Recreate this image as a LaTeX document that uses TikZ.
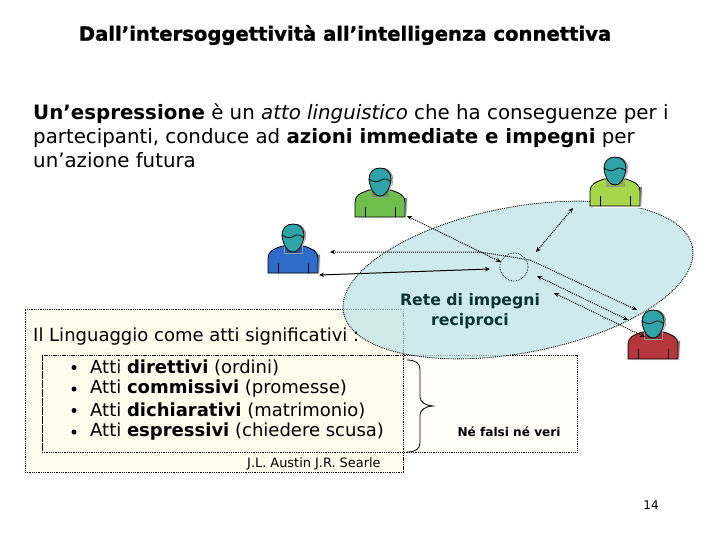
\documentclass[tikz,border=0pt]{standalone}
\usepackage{fontspec}
\setmainfont{DejaVu Sans}
\usetikzlibrary{shapes.geometric,arrows.meta}
\definecolor{cream}{HTML}{FFFCEE}
\definecolor{creamlt}{HTML}{FFFEF6}
\definecolor{pool}{HTML}{BFE3E6}
\definecolor{headc}{HTML}{2FA3A8}
\definecolor{shade}{HTML}{A9B9BC}
\definecolor{ink}{HTML}{0B3236}
\definecolor{pgreen}{HTML}{6DBE4B}
\definecolor{plime}{HTML}{A6D64A}
\definecolor{pblue}{HTML}{2F6BC9}
\definecolor{pred}{HTML}{B5363C}
\tikzset{
 x=1pt,y=-1pt,
 dotbox/.style={draw=black,densely dotted,line width=0.8pt},
 lnk/.style={densely dotted,line width=1pt,{Stealth[length=5pt,width=4.5pt]}-{Stealth[length=5pt,width=4.5pt]}},
 lnkopen/.style={densely dotted,line width=1pt,{Stealth[length=5pt,width=4.5pt,open]}-{Stealth[length=5pt,width=4.5pt,open]}},
 lbl/.style={inner sep=0pt,anchor=west,text=black},
 pics/person/.style={code={
   \fill[shade] (-22,2) -- (27,2) -- (27,-18) -- (-22,-18) -- cycle;
   \draw[fill=#1,line width=0.8pt] (-25,0) -- (-25,-15) .. controls (-25,-22) and (-19,-24) .. (-11,-27)
     -- (11,-27) .. controls (19,-24) and (25,-22) .. (25,-15) -- (25,0) -- cycle;
   \draw[line width=0.5pt] (-15,0) -- (-15,-10) (15,0) -- (15,-10);
   \draw[fill=#1!85!black,line width=0.3pt,draw=black!40] (-9,-27) rectangle (9,-20);
   \fill[shade] (2.5,-37) ellipse (10.5 and 12);
   \draw[fill=headc,line width=0.8pt] (0,-49) .. controls (7,-49) and (11,-44) .. (11,-38)
     .. controls (11,-34) and (8,-21) .. (0,-21) .. controls (-8,-21) and (-11,-34) .. (-11,-38)
     .. controls (-11,-44) and (-7,-49) .. (0,-49) -- cycle;
   \draw[line width=0.7pt] (-11,-38) .. controls (-5,-34) and (-2,-35) .. (1,-37) .. controls (4,-39) and (8,-38) .. (11,-35);
 }}
}
\begin{document}
\begin{tikzpicture}
\useasboundingbox (0,0) rectangle (720,540);
\fill[white] (0,0) rectangle (720,540);
% boxes
\node (outer) [dotbox,fill=cream,minimum width=378pt,minimum height=163pt,inner sep=0pt] at (214,390.5) {};
\node (inner) [dotbox,fill=creamlt,minimum width=535pt,minimum height=97pt,inner sep=0pt] at (309.5,403.5) {};
\fill[cream] (42.5,355.5) rectangle (402.5,451.5);
\draw[densely dotted,line width=0.8pt] (42,355) -- (42,452) (42,355) -- (403,355) (42,452) -- (403,452) (403,309) -- (403,472);
% pool
\node (pool) [ellipse,draw=black,densely dotted,line width=0.9pt,fill=pool,fill opacity=0.75,minimum width=355pt,minimum height=146pt,inner sep=0pt,rotate=10.6] at (518,280) {};
\node (hub) [circle,draw=black,densely dotted,line width=0.7pt,minimum size=28pt,inner sep=0pt] at (514,267) {};
% title
\node (title) [font=\bfseries\fontsize{19.6}{22}\selectfont\addfontfeature{FakeBold=1.2},inner sep=0pt] at (345,35) {Dall’intersoggettività all’intelligenza connettiva};
\node (intro) [lbl,anchor=north west,align=left,font=\fontsize{19.8}{24}\selectfont] at (33,103) {\textbf{Un’espressione} è un \textit{atto linguistico} che ha conseguenze per i\\partecipanti, conduce ad \textbf{azioni immediate e impegni} per\\un’azione futura};
\node (lang) [lbl,font=\fontsize{18}{21}\selectfont] at (33,337) {Il Linguaggio come atti significativi :};
\foreach \yy/\bb/\rr [count=\i] in {367.5/direttivi/(ordini),389/commissivi/(promesse),410.5/dichiarativi/(matrimonio),432/espressivi/(chiedere scusa)} {
  \node (dot\i) [circle,fill=black,inner sep=0pt,minimum size=5pt] at (74,\yy) {};
  \node (item\i) [lbl,font=\fontsize{18}{21}\selectfont] at (90,\yy) {Atti \textbf{\bb} \rr};
}
\node (cite) [lbl,font=\fontsize{12.9}{15}\selectfont] at (247,464) {J.L. Austin J.R. Searle};
\node (rete) [align=center,text=ink,font=\bfseries\fontsize{15.7}{20}\selectfont,inner sep=0pt] at (470,311) {Rete di impegni\\reciproci};
\node (nefv) [inner sep=0pt,font=\bfseries\fontsize{12.1}{14}\selectfont] at (509,432) {Né falsi né veri};
\node (pg) [inner sep=0pt,font=\fontsize{12}{14}\selectfont] at (651,505) {14};
% people
\pic (pa) at (380,217) {person={pgreen}};
\pic (pb) at (615,206) {person={plime}};
\pic (pc) at (293,273) {person={pblue}};
\pic (pd) at (653,359) {person={pred}};
% connector ends
\coordinate (a1) at (407,216); \coordinate (a2) at (501,262);
\coordinate (b1) at (573,208); \coordinate (b2) at (536,252);
\coordinate (c1) at (330,252); \coordinate (c2) at (480,252); \coordinate (c3) at (530,260); \coordinate (c4) at (637,310);
\coordinate (d1) at (319,275); \coordinate (d2) at (490,269);
\coordinate (e1) at (537,276); \coordinate (e2) at (628,320);
\coordinate (f1) at (554,293); \coordinate (f2) at (645,337);
\draw[lnk] (a1) -- (a2);
\draw[lnk] (b1) -- (b2);
\draw[lnk] (c1) -- (c2) -- (c3) -- (c4);
\draw[line width=1pt,{Stealth[length=5pt,width=4.5pt]}-{Stealth[length=5pt,width=4.5pt]}] (d1) -- (d2);
\draw[lnkopen] (e1) -- (e2);
\draw[lnkopen] (f1) -- (f2);
% brace
\coordinate (br1) at (407,360); \coordinate (brm) at (433,406); \coordinate (br2) at (407,452);
\draw[line width=0.8pt] (br1) .. controls (415,360) and (420,363) .. (420,369) -- (420,397) .. controls (420,402) and (426,406) .. (brm)
  .. controls (426,406) and (420,410) .. (420,415) -- (420,443) .. controls (420,449) and (415,452) .. (br2);
\end{tikzpicture}
\end{document}
